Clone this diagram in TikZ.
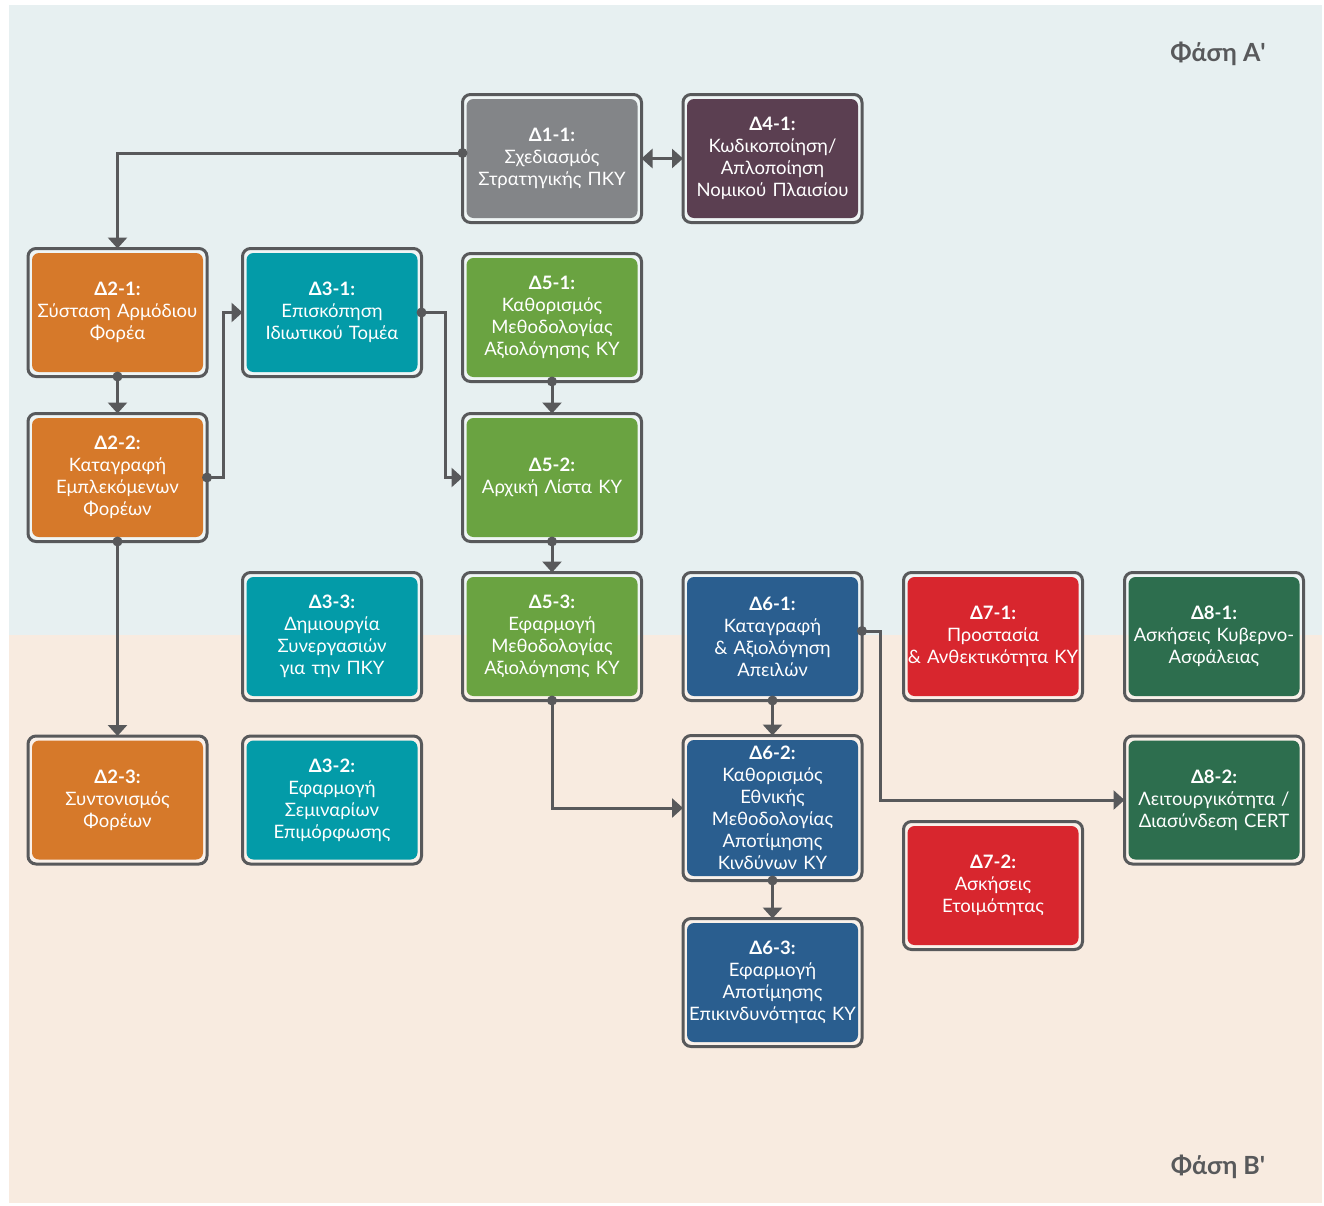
\documentclass[tikz,border=0pt]{standalone}
\usepackage{fontspec}
\setmainfont{Lato}
\usetikzlibrary{arrows.meta,calc}
\definecolor{bgA}{HTML}{E7F0F1}
\definecolor{bgB}{HTML}{F8EBE0}
\definecolor{linec}{HTML}{58595B}
\definecolor{cgray}{HTML}{838588}
\definecolor{cpurple}{HTML}{5B3F51}
\definecolor{corange}{HTML}{D6792A}
\definecolor{cteal}{HTML}{039BA8}
\definecolor{cgreen}{HTML}{6AA341}
\definecolor{cblue}{HTML}{2A5E8F}
\definecolor{cred}{HTML}{D8262E}
\definecolor{cdgreen}{HTML}{2D6E4E}
\begin{document}
\begin{tikzpicture}[x=1pt,y=-1pt,
  frame/.style={draw=linec, line width=3pt, rounded corners=8pt, fill=white, fill opacity=0.35,
    minimum width=179pt, minimum height=128pt, inner sep=0pt, outer sep=0pt},
  inbox/.style={rounded corners=7pt, minimum width=171pt, minimum height=119pt, text width=171pt,
    align=center, text=white, inner sep=0pt, font=\fontsize{18.5}{22}\selectfont},
  conn/.style={draw=linec, line width=3pt},
  arr/.style={conn, -{Triangle[length=11pt,width=19pt]}},
  dotc/.style={fill=linec},
  phase/.style={font=\bfseries\fontsize{25}{28}\selectfont, text=linec}
]
\useasboundingbox (0,0) rectangle (1324,1205);
\fill[white] (0,0) rectangle (1324,1205);
\fill[bgA] (9,5) rectangle (1322,635);
\fill[bgB] (9,635) rectangle (1322,1203);

\node[phase] (pa) at (1218,54) {Φάση Α\textquotesingle};
\node[phase] (pb) at (1218,1167) {Φάση Β\textquotesingle};

% frames
\node[frame] (f11) at (552,158.5) {};
\node[frame] (f41) at (772.5,158.5) {};
\node[frame] (f21) at (117.5,312.5) {};
\node[frame] (f31) at (332,312.5) {};
\node[frame] (f51) at (552,317.5) {};
\node[frame] (f22) at (117.5,477.5) {};
\node[frame] (f52) at (552,477.5) {};
\node[frame] (f33) at (332,636.5) {};
\node[frame] (f53) at (552,636.5) {};
\node[frame] (f61) at (772.5,636.5) {};
\node[frame] (f71) at (993,636.5) {};
\node[frame] (f81) at (1214,636.5) {};
\node[frame] (f23) at (117.5,800) {};
\node[frame] (f32) at (332,800) {};
\node[frame, minimum height=145pt] (f62) at (772.5,808) {};
\node[frame] (f82) at (1214,800) {};
\node[frame] (f72) at (993,885.5) {};
\node[frame] (f63) at (772.5,982.5) {};

% inner boxes
\node[inbox, fill=cgray] (t11) at (f11.center) {\textbf{Δ1-1:}\\Σχεδιασμός\\Στρατηγικής ΠΚΥ};
\node[inbox, fill=cpurple] (t41) at (f41.center) {\textbf{Δ4-1:}\\Κωδικοποίηση/\\Απλοποίηση\\Νομικού Πλαισίου};
\node[inbox, fill=corange] (t21) at (f21.center) {\textbf{Δ2-1:}\\Σύσταση Αρμόδιου\\Φορέα};
\node[inbox, fill=cteal] (t31) at (f31.center) {\textbf{Δ3-1:}\\Επισκόπηση\\Ιδιωτικού Τομέα};
\node[inbox, fill=cgreen] (t51) at (f51.center) {\textbf{Δ5-1:}\\Καθορισμός\\Μεθοδολογίας\\Αξιολόγησης ΚΥ};
\node[inbox, fill=corange] (t22) at (f22.center) {\textbf{Δ2-2:}\\Καταγραφή\\Εμπλεκόμενων\\Φορέων};
\node[inbox, fill=cgreen] (t52) at (f52.center) {\textbf{Δ5-2:}\\Αρχική Λίστα ΚΥ};
\node[inbox, fill=cteal] (t33) at (f33.center) {\textbf{Δ3-3:}\\Δημιουργία\\Συνεργασιών\\για την ΠΚΥ};
\node[inbox, fill=cgreen] (t53) at (f53.center) {\textbf{Δ5-3:}\\Εφαρμογή\\Μεθοδολογίας\\Αξιολόγησης ΚΥ};
\node[inbox, fill=cblue] (t61) at (f61.center) {\textbf{Δ6-1:}\\Καταγραφή\\\&{} Αξιολόγηση\\Απειλών};
\node[inbox, fill=cred] (t71) at (f71.center) {\textbf{Δ7-1:}\\Προστασία\\\&{} Ανθεκτικότητα ΚΥ};
\node[inbox, fill=cdgreen] (t81) at (f81.center) {\textbf{Δ8-1:}\\Ασκήσεις Κυβερνο-\\Ασφάλειας};
\node[inbox, fill=corange] (t23) at (f23.center) {\textbf{Δ2-3:}\\Συντονισμός\\Φορέων};
\node[inbox, fill=cteal] (t32) at (f32.center) {\textbf{Δ3-2:}\\Εφαρμογή\\Σεμιναρίων\\Επιμόρφωσης};
\node[inbox, fill=cblue, minimum height=136pt] (t62) at (f62.center) {\textbf{Δ6-2:}\\Καθορισμός\\Εθνικής\\Μεθοδολογίας\\Αποτίμησης\\Κινδύνων ΚΥ};
\node[inbox, fill=cdgreen] (t82) at (f82.center) {\textbf{Δ8-2:}\\Λειτουργικότητα /\\Διασύνδεση CERT};
\node[inbox, fill=cred] (t72) at (f72.center) {\textbf{Δ7-2:}\\Ασκήσεις\\Ετοιμότητας};
\node[inbox, fill=cblue] (t63) at (f63.center) {\textbf{Δ6-3:}\\Εφαρμογή\\Αποτίμησης\\Επικινδυνότητας ΚΥ};

% connectors
\coordinate (s11) at ($(f11.west)+(0,-5.5)$);
\coordinate (s61) at ($(f61.east)+(0,-5.5)$);
\draw[arr] (s11) -| (f21.north);
\draw[conn, {Triangle[length=11pt,width=19pt]}-{Triangle[length=11pt,width=19pt]}] (f11.east) -- (f41.west);
\draw[arr] (f21.south) -- (f22.north);
\draw[arr] (f22.east) -- ++(16,0) |- (f31.west);
\draw[arr] (f31.east) -- ++(24,0) |- (f52.west);
\draw[arr] (f51.south) -- (f52.north);
\draw[arr] (f52.south) -- (f53.north);
\draw[arr] (f22.south) -- (f23.north);
\draw[arr] (f53.south) |- (f62.west);
\draw[arr] (f61.south) -- (f62.north);
\draw[arr] (s61) -- ++(18,0) |- (f82.west);
\draw[arr] (f62.south) -- (f63.north);

% dots
\foreach \p in {s11, f21.south, f22.east, f31.east, f51.south, f52.south, f22.south, f53.south, f61.south, s61, f62.south}
  \fill[dotc] (\p) circle (5pt);
\end{tikzpicture}
\end{document}
